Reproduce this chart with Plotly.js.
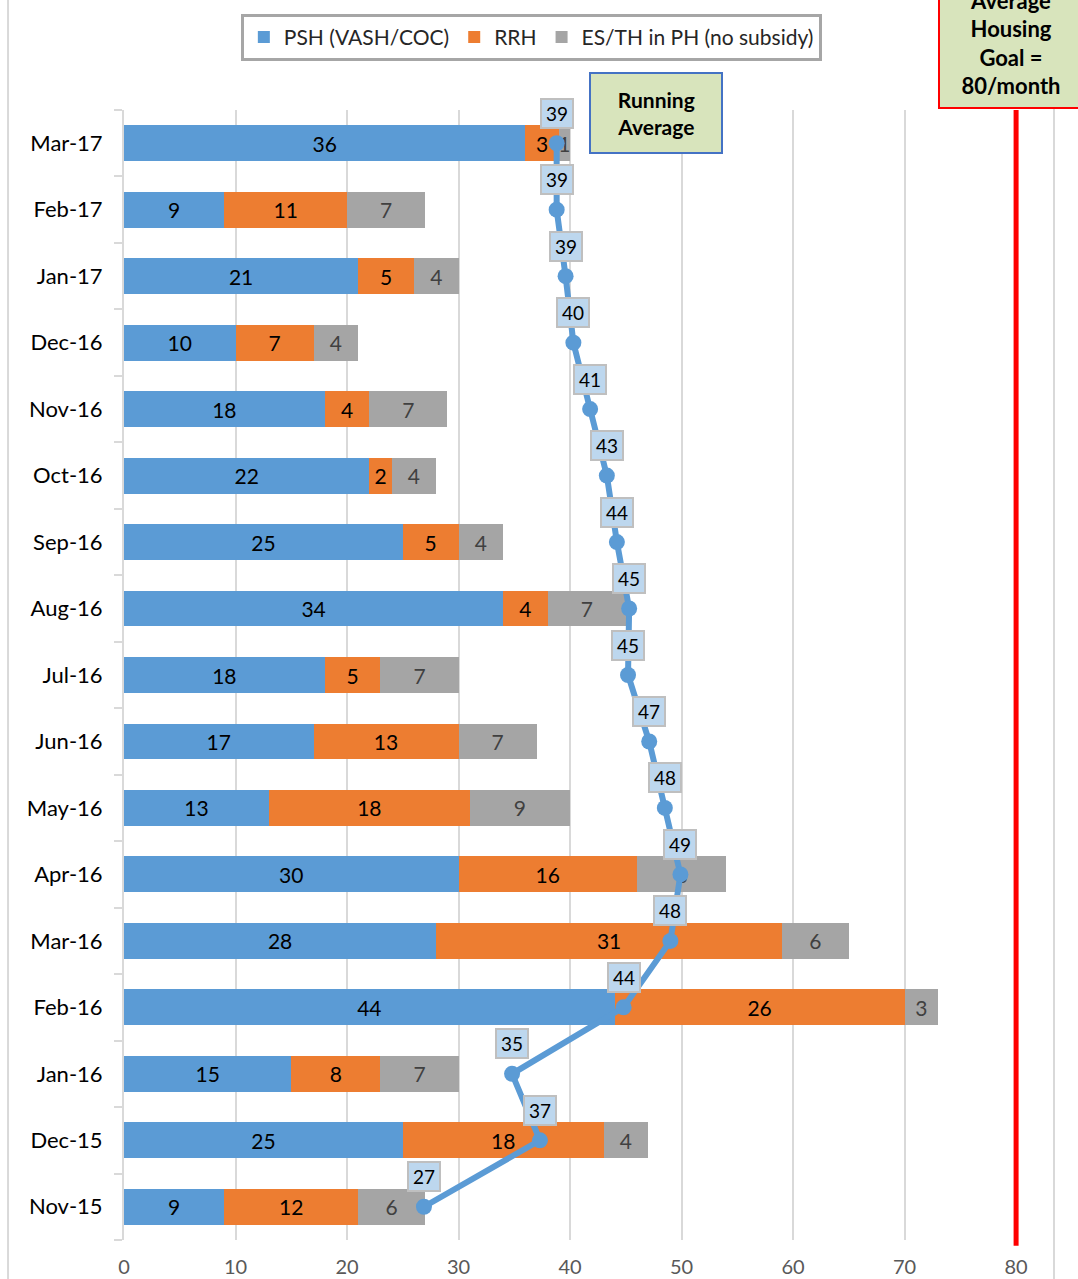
<!DOCTYPE html>
<html>
<head>
<meta charset="utf-8">
<script src="https://cdn.plot.ly/plotly-3.0.1.min.js"></script>
<style>
html,body{margin:0;padding:0;background:#fff;}
#chart{width:1078px;height:1279px;}
</style>
</head>
<body>
<div id="chart"></div>
<script>
const months = ['Nov-15','Dec-15','Jan-16','Feb-16','Mar-16','Apr-16','May-16','Jun-16','Jul-16','Aug-16','Sep-16','Oct-16','Nov-16','Dec-16','Jan-17','Feb-17','Mar-17'];
const psh  = [9,25,15,44,28,30,13,17,18,34,25,22,18,10,21,9,36];
const rrh  = [12,18,8,26,31,16,18,13,5,4,5,2,4,7,5,11,3];
const esth = [6,4,7,3,6,8,9,7,7,7,4,4,7,4,4,7,1];
const runAvg = [26.9,37.3,34.8,44.8,49.0,49.9,48.5,47.1,45.2,45.3,44.2,43.3,41.8,40.3,39.6,38.8,38.8];
const runAvgLabels = ['27','37','35','44','48','49','48','47','45','45','44','43','41','40','39','39','39'];
const seriesNames = ['PSH (VASH/COC)','RRH','ES/TH in PH (no subsidy)'];
const goal = 80;
const xTicks = [0,10,20,30,40,50,60,70,80];

const FONT = 'Lato, "Open Sans", sans-serif';

function barTrace(vals, name, color, txtColor){
  return {
    type:'bar', orientation:'h', y: months, x: vals, name: name,
    marker:{color: color},
    text: vals.map(String), textposition:'inside', insidetextanchor:'middle',
    constraintext:'none', textangle:0,
    insidetextfont:{family:FONT, size:21, color: txtColor},
    hoverinfo:'x+name'
  };
}

const traces = [
  barTrace(psh, seriesNames[0], '#5B9BD5', '#000000'),
  barTrace(rrh, seriesNames[1], '#ED7D31', '#000000'),
  barTrace(esth, seriesNames[2], '#A5A5A5', '#404040'),
  {
    type:'scatter', mode:'lines+markers', y: months, x: runAvg,
    line:{color:'#5B9BD5', width:6},
    marker:{color:'#5B9BD5', size:16},
    showlegend:false, name:'Running Average'
  }
];

const annotations = runAvg.map((v,i)=>({
  x: v, y: months[i], xref:'x', yref:'y',
  text: runAvgLabels[i], showarrow:false, yshift:30,
  font:{family:FONT, size:19, color:'#000'},
  bgcolor:'#BDD7EE', bordercolor:'#BFBFBF', borderwidth:2, borderpad:1,
  width:28, height:25
}));

annotations.push({
  x: 47.7, y: 1.0, xref:'x', yref:'paper', yanchor:'middle', yshift:-3,
  text:'<b>Running<br>Average</b>', showarrow:false,
  font:{family:FONT, size:21, color:'#000'},
  bgcolor:'#D8E4BC', bordercolor:'#4472C4', borderwidth:2,
  width:128, height:76
});

annotations.push({
  x: goal, y: 1.0, xref:'x', yref:'paper', yanchor:'bottom', yshift:1, xshift:-5,
  text:'<b>Average<br>Housing<br>Goal =<br>80/month</b>', showarrow:false,
  font:{family:FONT, size:22, color:'#000'},
  bgcolor:'#D8E4BC', bordercolor:'#FF0000', borderwidth:2,
  width:140, height:126
});

const layout = {
  width:1078, height:1279,
  margin:{l:124, r:24, t:110, b:39},
  paper_bgcolor:'#ffffff', plot_bgcolor:'#ffffff',
  barmode:'stack', bargap:0.46,
  font:{family:FONT, color:'#000'},
  showlegend:true,
  legend:{
    orientation:'h', x:0.438, xanchor:'center', y:1.085, yanchor:'top',
    bgcolor:'#ffffff', bordercolor:'#A6A6A6', borderwidth:3,
    font:{family:FONT, size:21, color:'#262626'},
    itemwidth:30, traceorder:'normal'
  },
  xaxis:{
    range:[0,83.4], tickvals:xTicks, ticktext:xTicks.map(String),
    showgrid:true, gridcolor:'#D9D9D9', gridwidth:2,
    zeroline:false, showline:false, ticks:'',
    tickfont:{family:FONT, size:20, color:'#595959'},
    ticklabelstandoff:13, fixedrange:true
  },
  yaxis:{
    type:'category', categoryorder:'array', categoryarray:months,
    range:[-0.5, months.length-0.5], autorange:false,
    showgrid:false, zeroline:false,
    showline:true, linecolor:'#D9D9D9', linewidth:2,
    ticks:'outside', tickson:'boundaries', ticklen:8, tickwidth:2, tickcolor:'#D9D9D9',
    tickfont:{family:FONT, size:22, color:'#000'},
    ticklabelstandoff:15, fixedrange:true
  },
  shapes:[
    {type:'line', xref:'x', yref:'paper', x0:goal, x1:goal, y0:-0.005, y1:1.0,
     line:{color:'#FF0000', width:5}, layer:'above'},
    {type:'line', xref:'paper', yref:'paper', x0:-0.1247, x1:-0.1247, y0:-0.035, y1:1.1,
     line:{color:'#D9D9D9', width:2}, layer:'below'},
    {type:'line', xref:'paper', yref:'paper', x0:1.0, x1:1.0, y0:-0.035, y1:1.1,
     line:{color:'#D9D9D9', width:2}, layer:'below'}
  ],
  annotations: annotations
};

Plotly.newPlot('chart', traces, layout, {displayModeBar:false, staticPlot:true});
</script>
</body>
</html>
